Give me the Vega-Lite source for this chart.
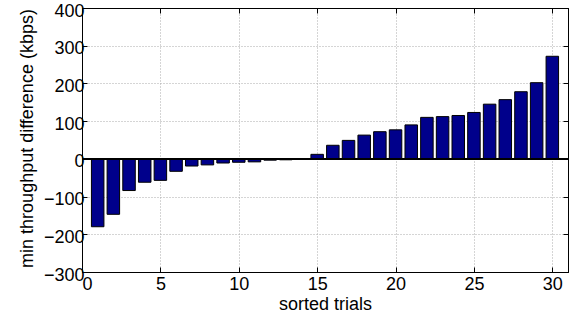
{
  "$schema": "https://vega.github.io/schema/vega-lite/v6.json",
  "width": 486,
  "height": 264,
  "autosize": {"type": "none"},
  "padding": {"left": 82, "top": 8, "right": 2, "bottom": 44},
  "background": "white",
  "config": {
    "view": {"stroke": "black", "strokeWidth": 1},
    "font": "Liberation Sans",
    "scale": {"continuousPadding": 0},
    "axis": {
      "labelFont": "Liberation Sans",
      "titleFont": "Liberation Sans",
      "labelFontSize": 18,
      "titleFontSize": 18,
      "titleFontWeight": "normal",
      "labelColor": "black",
      "titleColor": "black",
      "domainColor": "black",
      "tickColor": "black",
      "gridColor": "#aaaaaa",
      "gridDash": [1, 2],
      "gridWidth": 1
    }
  },
  "data": {
    "values": [
      {"trial": 1, "diff": -180}, {"trial": 2, "diff": -147}, {"trial": 3, "diff": -84},
      {"trial": 4, "diff": -62}, {"trial": 5, "diff": -57}, {"trial": 6, "diff": -33},
      {"trial": 7, "diff": -19}, {"trial": 8, "diff": -16}, {"trial": 9, "diff": -11},
      {"trial": 10, "diff": -9}, {"trial": 11, "diff": -8}, {"trial": 12, "diff": -3.5},
      {"trial": 13, "diff": -2.5}, {"trial": 14, "diff": -0.5}, {"trial": 15, "diff": 12},
      {"trial": 16, "diff": 36}, {"trial": 17, "diff": 49}, {"trial": 18, "diff": 63},
      {"trial": 19, "diff": 72}, {"trial": 20, "diff": 77}, {"trial": 21, "diff": 90},
      {"trial": 22, "diff": 110}, {"trial": 23, "diff": 112}, {"trial": 24, "diff": 115},
      {"trial": 25, "diff": 123}, {"trial": 26, "diff": 145}, {"trial": 27, "diff": 157},
      {"trial": 28, "diff": 178}, {"trial": 29, "diff": 202}, {"trial": 30, "diff": 272}
    ]
  },
  "layer": [
    {
      "mark": {"type": "bar", "size": 12.5, "fill": "#00008B", "stroke": "black", "strokeWidth": 1},
      "encoding": {
        "x": {
          "field": "trial", "type": "quantitative",
          "scale": {"domain": [0, 31], "nice": false, "zero": false, "padding": 0},
          "axis": {"values": [0, 5, 10, 15, 20, 25, 30], "title": "sorted trials", "tickSize": -5, "labelPadding": 8, "titleBaseline": "alphabetic", "titleY": 37.5, "titleX": 243, "grid": true}
        },
        "y": {
          "field": "diff", "type": "quantitative",
          "scale": {"domain": [-300, 400], "nice": false},
          "axis": {"values": [-300, -200, -100, 0, 100, 200, 300, 400], "title": "min throughput difference (kbps)", "tickSize": -5, "labelPadding": 3, "labelOffset": 3, "titleBaseline": "alphabetic", "titleX": -50, "titleY": 130, "titleAngle": 270, "titleAlign": "center", "grid": true}
        }
      }
    },
    {
      "mark": {"type": "rule", "color": "black", "strokeWidth": 1},
      "encoding": {"y": {"datum": 0, "type": "quantitative", "scale": {"domain": [-300, 400], "nice": false}, "axis": null}}
    },
    {
      "mark": {"type": "point", "opacity": 0},
      "encoding": {
        "x": {
          "field": "trial", "type": "quantitative",
          "scale": {"domain": [0, 31], "nice": false, "zero": false, "padding": 0},
          "axis": {"orient": "top", "values": [0, 5, 10, 15, 20, 25, 30], "labels": false, "title": null, "tickSize": -5, "grid": false}
        },
        "y": {
          "field": "diff", "type": "quantitative",
          "scale": {"domain": [-300, 400], "nice": false},
          "axis": {"orient": "right", "values": [-300, -200, -100, 0, 100, 200, 300, 400], "labels": false, "title": null, "tickSize": -5, "grid": false}
        }
      }
    }
  ],
  "resolve": {"axis": {"x": "independent", "y": "independent"}}
}
